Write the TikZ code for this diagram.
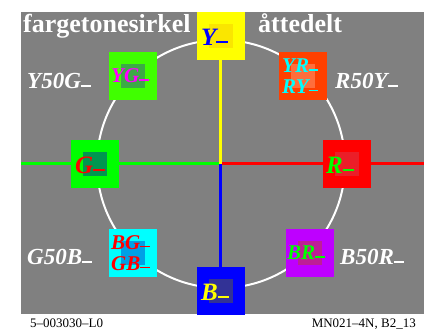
\documentclass[tikz,border=0pt]{standalone}
\usepackage{fontspec}
\setmainfont{Liberation Serif}
\usetikzlibrary{positioning}

\definecolor{bggray}{RGB}{128,128,128}
\definecolor{cY}{RGB}{255,255,0}
\definecolor{cYin}{RGB}{250,230,0}
\definecolor{cB}{RGB}{0,0,255}
\definecolor{cBin}{RGB}{50,50,150}
\definecolor{cG}{RGB}{0,255,0}
\definecolor{cGin}{RGB}{0,150,80}
\definecolor{cR}{RGB}{255,0,0}
\definecolor{cRin}{RGB}{235,30,40}
\definecolor{cYG}{RGB}{64,255,0}
\definecolor{cYGin}{RGB}{60,170,70}
\definecolor{cYR}{RGB}{255,64,0}
\definecolor{cYRin}{RGB}{255,110,60}
\definecolor{cBG}{RGB}{0,255,255}
\definecolor{cBGin}{RGB}{0,160,230}
\definecolor{cBR}{RGB}{190,0,255}
\definecolor{cBRin}{RGB}{190,30,150}
\definecolor{cM}{RGB}{255,0,255}

\newcommand{\sdash}{\rule[0.1em]{0.45em}{0.07em}}

\begin{document}
\begin{tikzpicture}[x=1pt,y=1pt,
    box/.style={minimum size=48pt,inner sep=0pt,outer sep=0pt},
    inbox/.style={minimum size=24pt,inner sep=0pt,outer sep=0pt},
    boxtext/.style={anchor=west,inner sep=0pt,font=\fontsize{25}{25}\selectfont\bfseries\itshape},
    smalltext/.style={anchor=west,inner sep=0pt,align=left,font=\fontsize{21}{20.5}\selectfont\bfseries\itshape},
    tonelabel/.style={anchor=base west,inner sep=0pt,text=white,font=\fontsize{23}{23}\selectfont\bfseries\itshape},
    titletext/.style={anchor=base west,inner sep=0pt,text=white,font=\fontsize{26}{26}\selectfont\bfseries},
    foot/.style={inner sep=0pt,font=\fontsize{13}{13}\selectfont},
    axis/.style={line width=3pt}]
		% frame
		\useasboundingbox[fill=white] (-221,-168) rectangle (203,164);
		\fill[bggray] (-200,-150) rectangle (203,152);
		\coordinate (O) at (0,0);
		\coordinate (Wend) at (-200,0);
		\coordinate (Eend) at (203,0);
		
		% hue circle
		\draw[white,line width=2pt] (O) circle (124);
		
		% colour boxes
		\node[box,fill=cY] (Y) at (0,128) {};
		\node[box,fill=cB] (B) at (0,-127) {};
		\node[box,fill=cG] (G) at (-126,0) {};
		\node[box,fill=cR] (R) at (126,0) {};
		\node[box,fill=cYG] (YG) at (-88,88) {};
		\node[box,fill=cYR] (YR) at (82,88) {};
		\node[box,fill=cBG] (BG) at (-88,-89) {};
		\node[box,fill=cBR] (BR) at (89,-89) {};
		\foreach \n in {Y,B,G,R,YG,YR,BG,BR}
			\node[inbox,fill=c\n in] (\n-in) at (\n) {};
		
		% axes
		\draw[axis,cG] (Wend) -- (G);
		\draw[axis,cG] (G) -- (O);
		\draw[axis,cR] (O) -- (R);
		\draw[axis,cR] (R) -- (Eend);
		\draw[axis,cY] (O) -- (Y);
		\draw[axis,cB] (O) -- (B);
		
		% box texts
		\node[boxtext,text=cB] (Ylab) at ([xshift=4pt,yshift=-1pt]Y.west) {Y\sdash};
		\node[boxtext,text=cY] (Blab) at ([xshift=4pt,yshift=-1pt]B.west) {B\sdash};
		\node[boxtext,text=cR] (Glab) at ([xshift=4pt,yshift=-1pt]G.west) {G\sdash};
		\node[boxtext,text=cG] (Rlab) at ([xshift=3pt,yshift=-1pt]R.west) {R\sdash};
		\node[smalltext,text=cM] (YGlab) at ([xshift=2pt]YG.west) {YG\sdash};
		\node[smalltext,text=cBG] (YRlab) at ([xshift=3pt]YR.west) {YR\sdash\\RY\sdash};
		\node[smalltext,text=cR] (BGlab) at ([xshift=2pt]BG.west) {BG\sdash\\GB\sdash};
		\node[smalltext,text=cG] (BRlab) at ([xshift=1pt]BR.west) {BR\sdash};
		
		% hue names
		\node[tonelabel] (Y50G) at (-194,75) {Y50G\sdash};
		\node[tonelabel] (R50Y) at (114,75) {R50Y\sdash};
		\node[tonelabel] (G50B) at (-194,-101) {G50B\sdash};
		\node[tonelabel] (B50R) at (119,-101) {B50R\sdash};
		
		% title and footer
		\node[titletext] (title) at (-198,131) {fargetonesirkel};
		\node[titletext] (parts) at (37,131) {åttedelt};
		\node[foot,anchor=base west] (code) at (-191,-164) {5--003030--L0};
		\node[foot,anchor=base east] (sheet) at (195,-164) {MN021--4N, B2\_13};
		
		\end{tikzpicture}
\end{document}
